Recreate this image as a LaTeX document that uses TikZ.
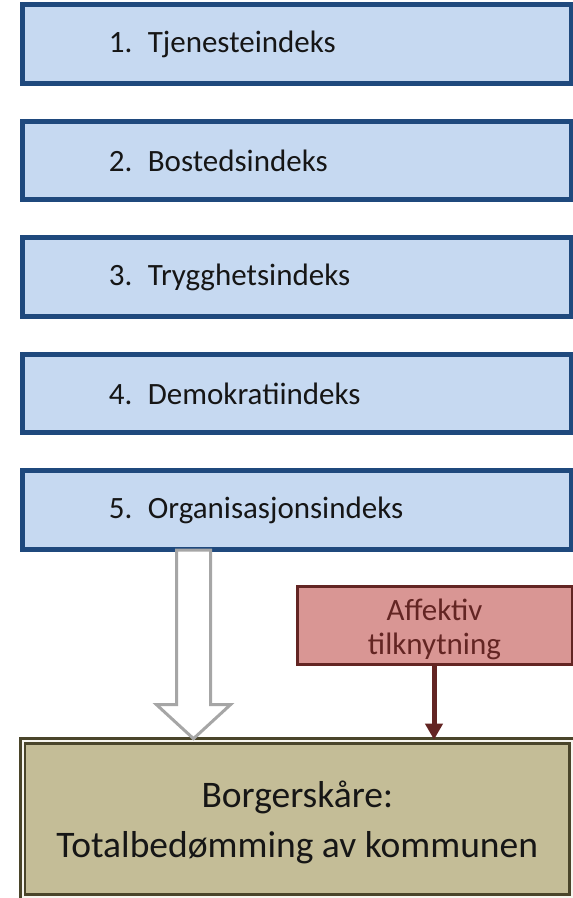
\documentclass[tikz,border=0pt]{standalone}
\usepackage{fontspec}
\setmainfont{Carlito}
\usetikzlibrary{arrows.meta,calc}
\definecolor{bluebd}{HTML}{1F497D}
\definecolor{bluefl}{HTML}{C6D9F1}
\definecolor{redbd}{HTML}{632523}
\definecolor{redfl}{HTML}{D99694}
\definecolor{olivebd}{HTML}{4A452A}
\definecolor{olivefl}{HTML}{C4BD97}
\definecolor{graybd}{HTML}{A6A6A6}
\definecolor{txt}{HTML}{161616}
\tikzset{
  indexbox/.style={draw=bluebd, fill=bluefl, line width=5pt, rectangle,
    minimum width=548.7pt, minimum height=78.2pt, inner xsep=86pt,
    text width=376.7pt, align=left, text=txt,
    font=\fontsize{31}{36}\selectfont},
  affbox/.style={draw=redbd, fill=redfl, line width=3pt, rectangle,
    minimum width=275pt, minimum height=78pt, align=center, text=redbd,
    inner sep=0pt, font=\fontsize{31}{34}\selectfont},
  totbox/.style={draw=olivebd, double=white!85!olivefl, double distance=2pt,
    line width=2.7pt, fill=olivefl, rectangle,
    minimum width=549.5pt, minimum height=156pt, align=center, text=txt,
    inner sep=0pt, font=\fontsize{37.5}{50}\selectfont},
  hollow/.style={draw=graybd, line width=3pt, fill=white, line join=miter},
  redarrow/.style={draw=redbd, line width=5pt,
    -{Triangle[length=16pt,width=17pt]}}
}
\begin{document}
\begin{tikzpicture}[x=1pt,y=-1pt]
\useasboundingbox (0,0) rectangle (573,898);
\node[indexbox] (b1) at (297.15,43.9) {1. Tjenesteindeks};
\node[indexbox] (b2) at (297.15,160.4) {2. Bostedsindeks};
\node[indexbox] (b3) at (297.15,276.9) {3. Trygghetsindeks};
\node[indexbox] (b4) at (297.15,393.4) {4. Demokratiindeks};
\node[indexbox] (b5) at (297.15,509.9) {5. Organisasjonsindeks};
\node[affbox] (aff) at (434.5,625) {\rule{0pt}{31pt}Affektiv\\tilknytning};
\node[totbox] (tot) at (297.25,819) {\rule{0pt}{34pt}Borgerskåre:\\Totalbedømming av kommunen};
% hollow arrow from b5 to tot
\coordinate (hTop) at (b5.south -| 193.5,0);
\coordinate (hTip) at (tot.north -| 193.5,0);
\draw[hollow] ($(hTop)+(-17,-1.5)$) -- ($(hTop)+(17,-1.5)$)
  -- ($(hTip)+(17,-35)$) -- ($(hTip)+(37,-35)$) -- ($(hTip)+(0,-1)$)
  -- ($(hTip)+(-37,-35)$) -- ($(hTip)+(-17,-35)$) -- cycle;
% red arrow
\draw[redarrow] (aff.south -| 434,0) -- (tot.north -| 434,0);
\end{tikzpicture}
\end{document}
